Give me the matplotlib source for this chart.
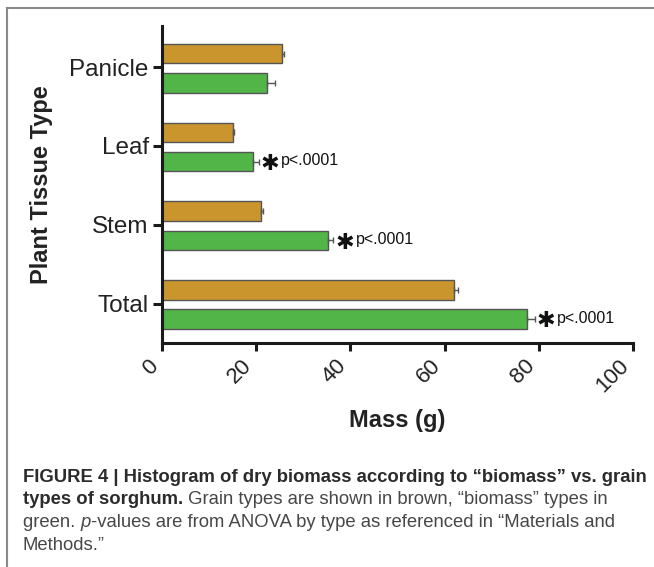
import matplotlib
matplotlib.use("Agg")
import matplotlib.pyplot as plt
from matplotlib.lines import Line2D
import numpy as np

# ---- data ----
categories = ["Total", "Stem", "Leaf", "Panicle"]
grain_mass = [62.0, 21.0, 15.0, 25.5]
grain_err = [0.9, 0.4, 0.3, 0.5]
biomass_mass = [77.5, 35.2, 19.3, 22.2]
biomass_err = [1.6, 1.2, 1.2, 1.7]
pvalue_labels = ["p<.0001", "p<.0001", "p<.0001", ""]
x_ticks = [0, 20, 40, 60, 80, 100]

caption_bold_1 = "FIGURE 4 | Histogram of dry biomass according to \u201cbiomass\u201d vs. grain"
caption_bold_2 = "types of sorghum."
caption_rest_2 = " Grain types are shown in brown, \u201cbiomass\u201d types in"
caption_3a = "green. "
caption_3b = "p"
caption_3c = "-values are from ANOVA by type as referenced in \u201cMaterials and"
caption_4 = "Methods.\u201d"

BROWN = "#C9952C"
GREEN = "#52B548"
EDGE = "#555555"

FONT = ["Liberation Sans", "DejaVu Sans"]
plt.rcParams["font.family"] = FONT

W, H = 654, 567
fig = plt.figure(figsize=(W / 100, H / 100), dpi=100)
fig.patch.set_facecolor("white")

left, right, bottom, top = 162, 633, 343, 26
ax = fig.add_axes([left / W, 1 - bottom / H, (right - left) / W, (bottom - top) / H])

y = np.arange(len(categories))
h = 0.25
off_b, off_g = 0.17, -0.20
ax.barh(y + off_b, grain_mass, height=h, color=BROWN, edgecolor=EDGE, linewidth=1.0,
        xerr=[np.zeros(len(grain_err)), grain_err],
        error_kw=dict(ecolor=EDGE, elinewidth=1.0, capsize=2.5, capthick=1.0))
ax.barh(y + off_g, biomass_mass, height=h, color=GREEN, edgecolor=EDGE, linewidth=1.0,
        xerr=[np.zeros(len(biomass_err)), biomass_err],
        error_kw=dict(ecolor=EDGE, elinewidth=1.0, capsize=2.5, capthick=1.0))

for i, lab in enumerate(pvalue_labels):
    if not lab:
        continue
    xe = biomass_mass[i] + biomass_err[i]
    ax.annotate("\u2731", xy=(xe, y[i] + off_g), xytext=(8.0, -1.5), textcoords="offset points",
                ha="center", va="center", fontsize=16, family=["DejaVu Sans"], color="#111111",
                annotation_clip=False)
    ax.annotate(lab, xy=(xe, y[i] + off_g), xytext=(16.0, 0.5), textcoords="offset points",
                ha="left", va="center", fontsize=11.5, color="#111111", annotation_clip=False)

ax.set_xlim(0, 100)
ax.set_ylim(-0.5, 3.52)
ax.set_yticks(y)
ax.set_yticklabels(categories, fontsize=17.5, color="#222222")
ax.set_xticks(x_ticks)
ax.set_xticklabels([str(t) for t in x_ticks], fontsize=16, rotation=45, ha="right", va="top",
                   color="#222222")
for s in ["top", "right"]:
    ax.spines[s].set_visible(False)
for s in ["left", "bottom"]:
    ax.spines[s].set_linewidth(2.2)
    ax.spines[s].set_color("#1a1a1a")
ax.tick_params(axis="y", length=6.5, width=2.2, color="#1a1a1a", pad=3)
ax.tick_params(axis="x", length=6, width=2.2, color="#1a1a1a", pad=3)

ax.set_xlabel("Mass (g)", fontsize=17, fontweight="bold", color="#222222", labelpad=9)
ax.set_ylabel("Plant Tissue Type", fontsize=17, fontweight="bold", color="#222222", labelpad=12)

# frame lines of the figure panel
fig.add_artist(Line2D([6.5 / W, 1], [1 - 7.5 / H, 1 - 7.5 / H], transform=fig.transFigure,
                      color="#8a8a8a", lw=1.5))
fig.add_artist(Line2D([6.5 / W, 6.5 / W], [1 - 7.5 / H, 0], transform=fig.transFigure,
                      color="#8a8a8a", lw=1.5))

# caption
cap_x = 23 / W
cap_size = 13.3
lines_y = [482, 504.5, 527, 549.5]  # baselines in pixels from top
renderer = fig.canvas.get_renderer()


def put(x_frac, ybase, text, **kw):
    t = fig.text(x_frac, 1 - ybase / H, text, ha="left", va="baseline", fontsize=cap_size,
                 **kw)
    bb = t.get_window_extent(renderer=renderer)
    return bb.x1 / W


put(cap_x, lines_y[0], caption_bold_1, fontweight="bold", color="#2b2b2b")
xx = put(cap_x, lines_y[1], caption_bold_2, fontweight="bold", color="#2b2b2b")
put(xx, lines_y[1], caption_rest_2, color="#474747")
xx = put(cap_x, lines_y[2], caption_3a, color="#474747")
xx = put(xx, lines_y[2], caption_3b, color="#474747", style="italic")
put(xx, lines_y[2], caption_3c, color="#474747")
put(cap_x, lines_y[3], caption_4, color="#474747")

fig.savefig("out.png", dpi=100)
